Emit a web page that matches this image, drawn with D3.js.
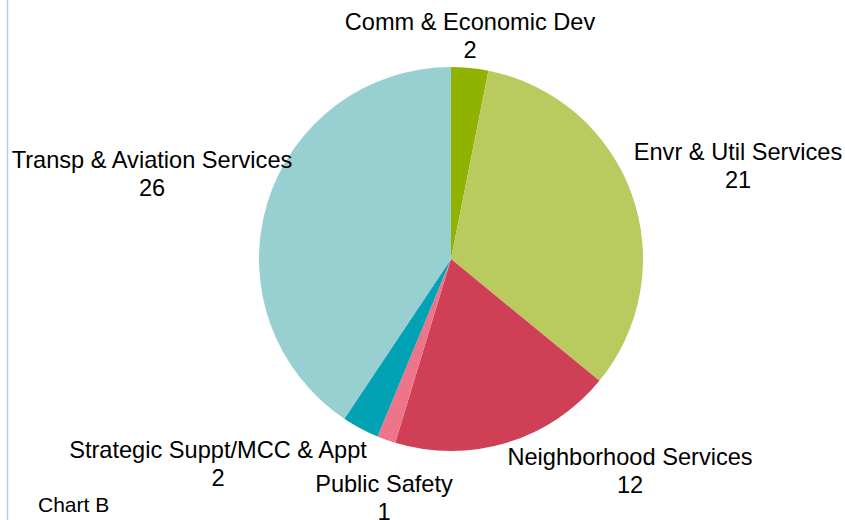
<!DOCTYPE html>
<html>
<head>
<meta charset="utf-8">
<script src="https://cdn.jsdelivr.net/npm/d3@7"></script>
<style>
  html, body { margin: 0; padding: 0; background: #fff; }
  svg { display: block; }
  text { font-family: "Liberation Sans", Arial, sans-serif; fill: #000; }
</style>
</head>
<body>
<svg id="chart" width="845" height="520"></svg>
<script>
// ---- data ----
const categories = [
  "Comm & Economic Dev",
  "Envr & Util Services",
  "Neighborhood Services",
  "Public Safety",
  "Strategic Suppt/MCC & Appt",
  "Transp & Aviation Services"
];
const values = [2, 21, 12, 1, 2, 26];
const colors = ["#8fb300", "#b9cb5e", "#cf3f56", "#ee7489", "#00a2b3", "#98cfd0"];
const chartTitle = "Chart B";

// ---- layout (label anchor points relative to pie centre) ----
const labelOffsets = [
  [19, -229],
  [287, -99],
  [179, 206],
  [-67, 233],
  [-233, 199],
  [-299, -91]
];

const svg = d3.select("#chart");
const width = 845, height = 520;
const cx = 451, cy = 259, radius = 192;

// left border line
svg.append("line")
  .attr("x1", 7.5).attr("x2", 7.5)
  .attr("y1", 0).attr("y2", height)
  .attr("stroke", "#b4c9f5").attr("stroke-width", 1.5);

const pie = d3.pie().sort(null).value(d => d.value);
const arc = d3.arc().innerRadius(0).outerRadius(radius);
const color = d3.scaleOrdinal().domain(categories).range(colors);

const data = categories.map((c, i) => ({ name: c, value: values[i], i }));

const g = svg.append("g").attr("transform", `translate(${cx},${cy})`);

g.selectAll("path.slice")
  .data(pie(data))
  .join("path")
  .attr("class", "slice")
  .attr("d", arc)
  .attr("fill", d => color(d.data.name));

const fs = 23.6;
const labels = g.selectAll("g.label")
  .data(data)
  .join("g")
  .attr("class", "label")
  .attr("transform", d => `translate(${labelOffsets[d.i][0]},${labelOffsets[d.i][1]})`);

labels.append("text")
  .attr("text-anchor", "middle")
  .attr("y", 0)
  .style("font-size", fs + "px")
  .text(d => d.name);
labels.append("text")
  .attr("text-anchor", "middle")
  .attr("y", 28)
  .style("font-size", fs + "px")
  .text(d => d.value);

svg.append("text")
  .attr("x", 38)
  .attr("y", 512)
  .style("font-size", "21px")
  .text(chartTitle);
</script>
</body>
</html>
